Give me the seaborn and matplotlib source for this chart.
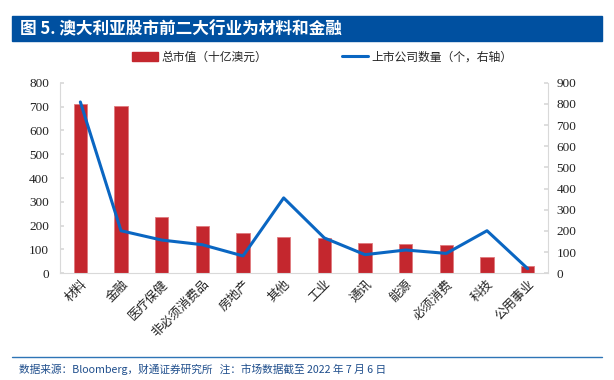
import numpy as np
import pandas as pd
import seaborn as sns
import matplotlib.pyplot as plt
from matplotlib.patches import Rectangle
from matplotlib.lines import Line2D

sns.set_theme(style="white")
plt.rcParams['font.family'] = ['Noto Sans CJK SC', 'DejaVu Sans']

# data
industries = ['材料', '金融', '医疗保健', '非必须消费品', '房地产', '其他', '工业',
              '通讯', '能源', '必须消费', '科技', '公用事业']
market_cap = [710, 702, 237, 198, 168, 152, 148, 126, 122, 119, 67, 31]   # 十亿澳元
n_listed = [809, 201, 157, 135, 82, 356, 167, 88, 110, 94, 201, 22]       # 个, right axis

df = pd.DataFrame({'industry': industries, 'cap': market_cap, 'n': n_listed})

bar_red = '#C4272E'
line_blue = '#0A66C2'
spine_grey = '#D9D9D9'

fig = plt.figure(figsize=(6.14, 3.8), dpi=100)
ax = fig.add_axes([60 / 614, 1 - 273.3 / 380, 488 / 614, 190.6 / 380])

sns.barplot(data=df, x='industry', y='cap', color=bar_red, width=0.32,
            edgecolor='#E07A7E', linewidth=0.6, saturation=1, ax=ax)
ax.set_ylim(0, 800)
ax.set_yticks(range(0, 801, 100))
ax.set_xlim(-0.5, len(industries) - 0.5)
ax.set_xlabel('')
ax.set_ylabel('')

ax2 = ax.twinx()
sns.lineplot(x=np.arange(len(industries)), y=df['n'], color=line_blue, linewidth=2.2,
             ax=ax2, sort=False)
ax2.set_ylim(0, 900)
ax2.set_yticks(range(0, 901, 100))
ax2.set_ylabel('')

for a in (ax, ax2):
    for s in a.spines.values():
        s.set_visible(False)
ax.spines['left'].set_visible(True)
ax.spines['bottom'].set_visible(True)
ax2.spines['right'].set_visible(True)
for s in (ax.spines['left'], ax.spines['bottom'], ax2.spines['right']):
    s.set_color(spine_grey)
    s.set_linewidth(0.8)

ax.tick_params(axis='y', direction='in', length=3, color=spine_grey, pad=8, labelsize=9.5)
ax2.tick_params(axis='y', direction='in', length=3, color=spine_grey, pad=6, labelsize=9.5)
for lab in ax.get_yticklabels() + ax2.get_yticklabels():
    lab.set_fontfamily('Liberation Serif')
    lab.set_color('#222222')

ax.tick_params(axis='x', length=0, pad=3)
ax.set_xticks(range(len(industries)))
ax.set_xticklabels(industries, rotation=45, ha='right', rotation_mode='anchor',
                   fontsize=9, color='#222222')

# legend
handles = [Rectangle((0, 0), 1, 1, color=bar_red),
           Line2D([0], [0], color=line_blue, linewidth=2.2)]
fig.legend(handles, ['总市值（十亿澳元）', '上市公司数量（个，右轴）'],
           loc='center', bbox_to_anchor=(322 / 614, 1 - 57 / 380), ncol=2,
           frameon=False, fontsize=8.5, handlelength=2.2, columnspacing=6.3,
           handletextpad=0.3)

# title banner
fig.patches.append(Rectangle((12 / 614, 1 - 41 / 380), 590 / 614, 25 / 380,
                             transform=fig.transFigure, color='#0050A0', zorder=0))
fig.text(20 / 614, 1 - 29 / 380, '图 5. 澳大利亚股市前二大行业为材料和金融',
         color='white', fontsize=12, va='center', ha='left', fontweight='bold')

# footer
fig.add_artist(Line2D([12 / 614, 602 / 614], [1 - 357 / 380, 1 - 357 / 380],
                      color='#2E75B6', linewidth=1.0, transform=fig.transFigure))
fig.text(19 / 614, 1 - 369 / 380, '数据来源：Bloomberg，财通证券研究所   注：市场数据截至 2022 年 7 月 6 日',
         color='#1F4E8C', fontsize=7.7, va='center', ha='left')

fig.savefig('out.png', dpi=100)
